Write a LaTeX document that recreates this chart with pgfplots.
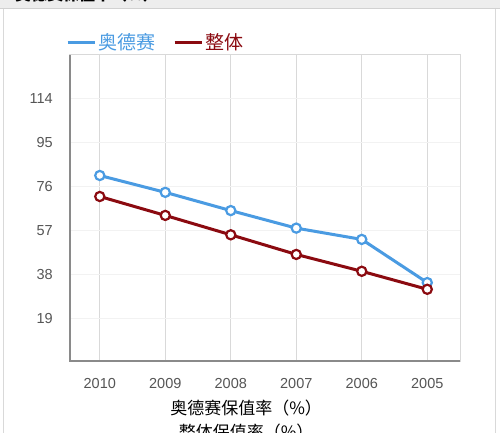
\documentclass[border=0pt]{standalone}
\usepackage{pgfplots}
\pgfplotsset{compat=1.18}
\usepackage{fontspec}
\setmainfont{Liberation Sans}
\newfontfamily\cjk{Noto Sans CJK SC}
\definecolor{cblue}{HTML}{4A9BE2}
\definecolor{cred}{HTML}{8B0A10}
\definecolor{spine}{HTML}{8A8A8A}
\definecolor{tick}{HTML}{555555}
\begin{document}
\begin{tikzpicture}[x=1pt,y=1pt]
\begin{scope}
\clip (0,0) rectangle (500,433);
\fill[white] (0,0) rectangle (500,433);
\fill[black!7] (0,424) rectangle (500,433);
\draw[black!18, line width=1pt] (0,424) -- (500,424);
\draw[black!15, line width=1pt] (3,0) -- (3,424);
\draw[black!15, line width=1pt] (495,0) -- (495,424);
\node[anchor=base west, inner sep=0, font=\cjk\bfseries\fontsize{16}{18}\selectfont] at (15,432.5) {奥德赛保值率（\%）};
\begin{axis}[
  at={(69pt,71pt)}, anchor=south west,
  scale only axis, width=391pt, height=307pt,
  xmin=-0.47, xmax=5.5, ymin=0, ymax=133,
  xtick={0,1,2,3,4,5},
  xticklabels={2010,2009,2008,2007,2006,2005},
  ytick={19,38,57,76,95,114},
  major tick length=0pt,
  /pgf/number format/assume math mode=true,
  ticklabel style={font=\fontsize{14.5}{16}\selectfont, text=tick},
  xticklabel style={anchor=center, yshift=-22pt},
  yticklabel style={anchor=east, inner sep=0pt, xshift=-16pt},
  xmajorgrids, ymajorgrids,
  x grid style={black!15, line width=1pt},
  y grid style={black!5, line width=1pt},
  axis line style={black!15, line width=1pt},
  xlabel={奥德赛保值率（\%）\\整体保值率（\%）},
  xlabel style={at={(axis description cs:0.453,-0.122)}, anchor=north, inner sep=0pt, align=center,
    font=\cjk\fontsize{17}{24}\selectfont},
  legend columns=2,
  legend style={draw=none, fill=none, at={(axis description cs:-0.008,1.042)}, anchor=west,
    inner sep=0pt, font=\cjk\fontsize{19}{21}\selectfont,
    /tikz/every even column/.append style={column sep=16pt}},
  legend image code/.code={\draw[#1, line width=3pt] (0pt,0pt) -- (27pt,0pt);},
]
\draw[spine, line width=3pt] (rel axis cs:0,1) -- (rel axis cs:0,0) -- (rel axis cs:1,0);
\addplot[cblue, line width=3pt, mark=*, mark size=4.6pt, mark options={fill=white, line width=2.2pt}, forget plot]
  coordinates {(0,80.8) (1,73.5) (2,65.6) (3,58.0) (4,53.1) (5,34.4)};
\addplot[cred, line width=3pt, mark=*, mark size=4.6pt, mark options={fill=white, line width=2.2pt}, forget plot]
  coordinates {(0,71.7) (1,63.5) (2,55.1) (3,46.6) (4,39.3) (5,31.5)};
\addlegendimage{cblue}
\addlegendentry{\textcolor{cblue}{奥德赛}}
\addlegendimage{cred}
\addlegendentry{\textcolor{cred}{整体}}
\end{axis}
\end{scope}
\pgfresetboundingbox
\useasboundingbox (0,0) rectangle (500,433);
\end{tikzpicture}
\end{document}
